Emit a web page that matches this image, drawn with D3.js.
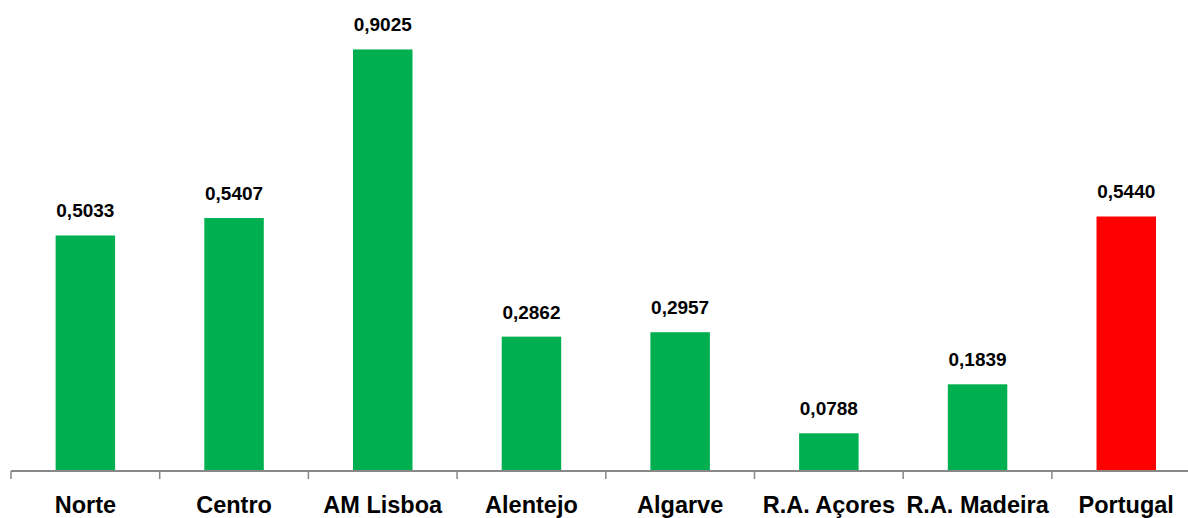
<!DOCTYPE html>
<html>
<head>
<meta charset="utf-8">
<script src="https://cdn.jsdelivr.net/npm/d3@7"></script>
<style>
  html, body { margin: 0; padding: 0; background: #fff; }
  svg { display: block; }
</style>
</head>
<body>
<svg id="chart" width="1188" height="518"></svg>
<script>
// Regions and their index values
const regions = ["Norte", "Centro", "AM Lisboa", "Alentejo", "Algarve", "R.A. Açores", "R.A. Madeira", "Portugal"];
const values = [0.5033, 0.5407, 0.9025, 0.2862, 0.2957, 0.0788, 0.1839, 0.5440];
const barColors = ["#00B050", "#00B050", "#00B050", "#00B050", "#00B050", "#00B050", "#00B050", "#FF0000"];

const svg = d3.select("#chart");
const W = 1188, H = 518;
const left = 11, step = 148.7;
const baseY = 470;

const x = d3.scaleBand()
  .domain(regions)
  .range([left, left + step * regions.length])
  .paddingInner(0.6)
  .paddingOuter(0.3);

const y = d3.scaleLinear().domain([0, 1]).range([baseY, baseY - 466]);

const fmt = v => d3.format(".4f")(v).replace(".", ",");

// Bars
svg.append("g").selectAll("rect")
  .data(values)
  .join("rect")
  .attr("x", (d, i) => x(regions[i]))
  .attr("y", d => y(d))
  .attr("width", x.bandwidth())
  .attr("height", d => y(0) - y(d))
  .attr("fill", (d, i) => barColors[i]);

// Value labels
svg.append("g").selectAll("text")
  .data(values)
  .join("text")
  .attr("x", (d, i) => x(regions[i]) + x.bandwidth() / 2)
  .attr("y", d => y(d) - 18)
  .attr("text-anchor", "middle")
  .attr("font-family", "Liberation Sans, Arial, sans-serif")
  .attr("font-weight", "bold")
  .attr("font-size", 19)
  .attr("fill", "#000")
  .text(d => fmt(d));

// Category axis
const axisG = svg.append("g");
axisG.append("line")
  .attr("x1", left).attr("x2", W)
  .attr("y1", baseY + 1).attr("y2", baseY + 1)
  .attr("stroke", "#888").attr("stroke-width", 2);

const tickPos = d3.range(regions.length + 1).map(i => left + i * x.step());
axisG.selectAll("line.tick")
  .data(tickPos)
  .join("line")
  .attr("class", "tick")
  .attr("x1", d => d).attr("x2", d => d)
  .attr("y1", baseY + 1).attr("y2", baseY + 9)
  .attr("stroke", "#888").attr("stroke-width", 1.5);

axisG.selectAll("text")
  .data(regions)
  .join("text")
  .attr("x", d => x(d) + x.bandwidth() / 2)
  .attr("y", 513)
  .attr("text-anchor", "middle")
  .attr("font-family", "Liberation Sans, Arial, sans-serif")
  .attr("font-weight", "bold")
  .attr("font-size", 23.5)
  .attr("fill", "#000")
  .text(d => d);
</script>
</body>
</html>
